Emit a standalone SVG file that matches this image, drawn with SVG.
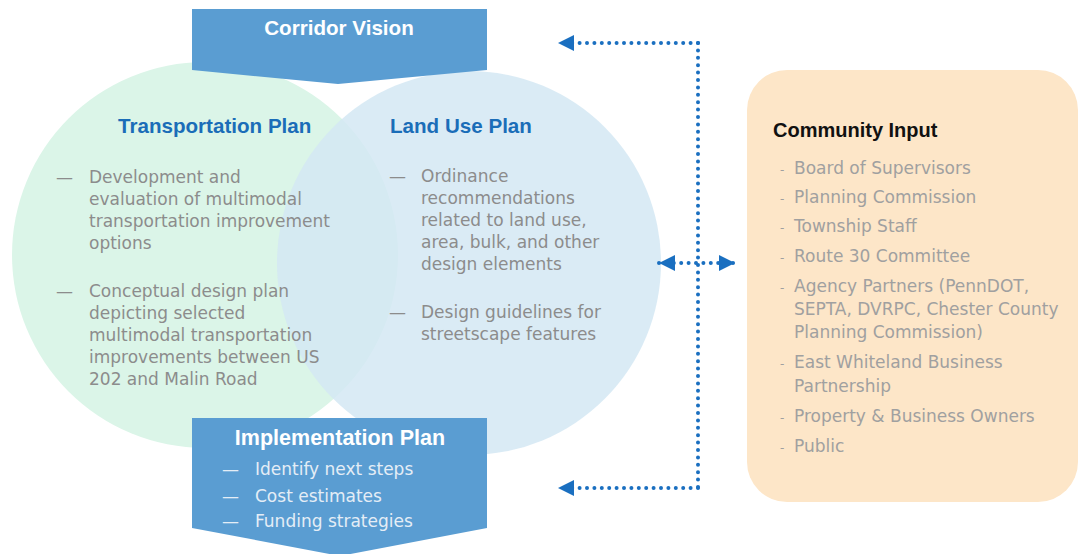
<svg xmlns="http://www.w3.org/2000/svg" width="1080" height="554" viewBox="0 0 1080 554">
<defs>
<style>
.head{font-family:"Liberation Sans",Arial,sans-serif;font-weight:bold;font-size:20.6px;fill:#1a6db8}
.wh{font-family:"Liberation Sans",Arial,sans-serif;font-weight:bold;fill:#ffffff}
.body{font-family:"DejaVu Sans",sans-serif;font-size:17px;fill:#8c8c8c}
.ci{font-family:"DejaVu Sans",sans-serif;font-size:17px;fill:#a0a0a0}
.imp{font-family:"DejaVu Sans",sans-serif;font-size:17px;fill:#e4edf6}
.dot{fill:none;stroke:#1a6fc0;stroke-width:4;stroke-linecap:round;stroke-dasharray:0 7.4}
.banner{fill:#5a9dd2}
</style>
<marker id="ah" viewBox="0 0 10 10" refX="10" refY="5" markerWidth="18" markerHeight="16" markerUnits="userSpaceOnUse" orient="auto-start-reverse">
<path d="M0,0 L10,5 L0,10 Z" fill="#1a6fc0"/>
</marker>
</defs>
<rect width="1080" height="554" fill="#ffffff"/>

<g id="transportation-plan">
<circle cx="205" cy="255" r="193" fill="#dbf5e8"/>
</g>
<g id="land-use-plan">
<circle cx="469" cy="263" r="192" fill="#d4e7f3" opacity="0.85"/>
</g>
<g id="transportation-text">
<text class="head" x="118" y="133">Transportation Plan</text>
<text class="body" x="56" y="183">—</text>
<text class="body" x="89" y="183">Development and</text>
<text class="body" x="89" y="205">evaluation of multimodal</text>
<text class="body" x="89" y="227">transportation improvement</text>
<text class="body" x="89" y="249">options</text>
<text class="body" x="56" y="297">—</text>
<text class="body" x="89" y="297">Conceptual design plan</text>
<text class="body" x="89" y="319">depicting selected</text>
<text class="body" x="89" y="341">multimodal transportation</text>
<text class="body" x="89" y="363">improvements between US</text>
<text class="body" x="89" y="385">202 and Malin Road</text>
</g>
<g id="land-use-text">
<text class="head" x="390" y="133">Land Use Plan</text>
<text class="body" x="389" y="182">—</text>
<text class="body" x="421" y="182">Ordinance</text>
<text class="body" x="421" y="204">recommendations</text>
<text class="body" x="421" y="226">related to land use,</text>
<text class="body" x="421" y="248">area, bulk, and other</text>
<text class="body" x="421" y="270">design elements</text>
<text class="body" x="389" y="318">—</text>
<text class="body" x="421" y="318">Design guidelines for</text>
<text class="body" x="421" y="340">streetscape features</text>
</g>

<g id="corridor-vision">
<path class="banner" d="M192,9 L487,9 L487,70 L338,84 L192,70 Z"/>
<text class="wh" x="339" y="35" font-size="20.6" text-anchor="middle">Corridor Vision</text>
</g>

<g id="implementation-plan">
<path class="banner" d="M192,418 L487,418 L487,528 L340,556 L192,528 Z"/>
<text class="wh" x="340" y="445" font-size="21.5" text-anchor="middle">Implementation Plan</text>
<text class="imp" x="222" y="475">—</text>
<text class="imp" x="255" y="475">Identify next steps</text>
<text class="imp" x="222" y="502">—</text>
<text class="imp" x="255" y="502">Cost estimates</text>
<text class="imp" x="222" y="527">—</text>
<text class="imp" x="255" y="527">Funding strategies</text>
</g>

<g id="community-input">
<rect x="747" y="70" width="331" height="432" rx="40" ry="40" fill="#fde6c8"/>
<text x="773" y="137" font-family="Liberation Sans, Arial, sans-serif" font-weight="bold" font-size="20" fill="#111111">Community Input</text>
<g class="ci">
<text x="780" y="174" font-size="12">-</text><text x="794" y="174">Board of Supervisors</text>
<text x="780" y="203" font-size="12">-</text><text x="794" y="203">Planning Commission</text>
<text x="780" y="232" font-size="12">-</text><text x="794" y="232">Township Staff</text>
<text x="780" y="262" font-size="12">-</text><text x="794" y="262">Route 30 Committee</text>
<text x="780" y="292" font-size="12">-</text><text x="794" y="292">Agency Partners (PennDOT,</text>
<text x="794" y="315">SEPTA, DVRPC, Chester County</text>
<text x="794" y="338">Planning Commission)</text>
<text x="780" y="368" font-size="12">-</text><text x="794" y="368">East Whiteland Business</text>
<text x="794" y="392">Partnership</text>
<text x="780" y="422" font-size="12">-</text><text x="794" y="422">Property &amp; Business Owners</text>
<text x="780" y="452" font-size="12">-</text><text x="794" y="452">Public</text>
</g>
</g>

<g id="connectors">
<line class="dot" x1="698" y1="43" x2="698" y2="490"/>
<path class="dot" d="M698,43 L558,43" marker-end="url(#ah)"/>
<path class="dot" d="M698,488 L558,488" marker-end="url(#ah)"/>
<path class="dot" d="M659,263 L735,263" marker-start="url(#ah)" marker-end="url(#ah)"/>
</g>
</svg>
